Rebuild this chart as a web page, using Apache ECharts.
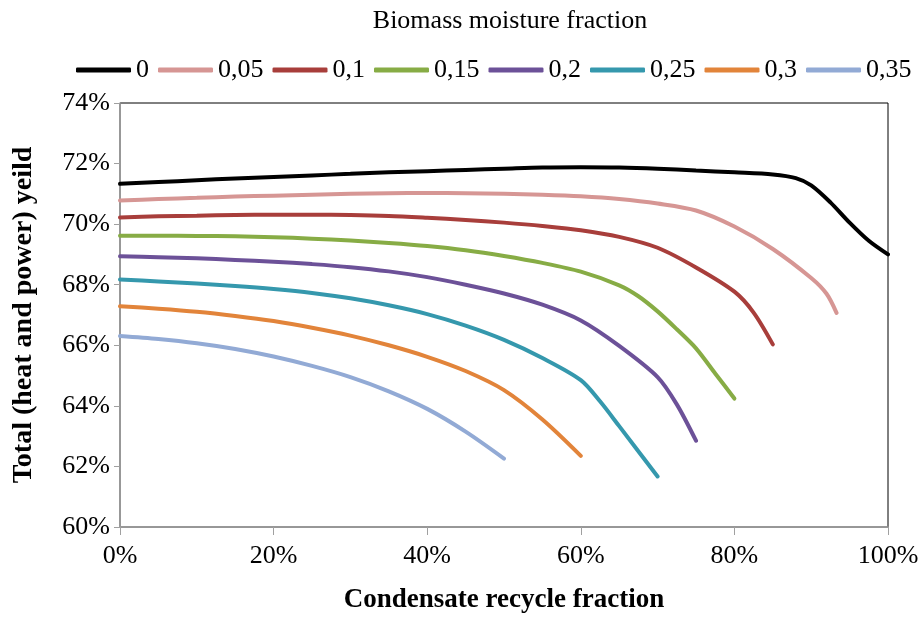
<!DOCTYPE html>
<html>
<head>
<meta charset="utf-8">
<script src="https://cdn.jsdelivr.net/npm/echarts@6/dist/echarts.min.js"></script>
<style>
  html, body { margin: 0; padding: 0; background: #fff; }
  #main { width: 924px; height: 619px; }
</style>
</head>
<body>
<div id="main"></div>
<script>
// moisture fractions (legend labels)
var moistureNames = ['0', '0,05', '0,1', '0,15', '0,2', '0,25', '0,3', '0,35'];
var lineColors = ['#000000', '#d69694', '#a83e3b', '#87ac45', '#6c5198', '#3598ad', '#e2843a', '#92aad5'];

// condensate recycle fraction (%) for each curve
var x0 = [0, 5, 10, 15, 20, 25, 30, 35, 40, 45, 50, 55, 60, 65, 70, 75, 80, 85, 88, 90, 92.5, 95, 97.5, 100];
var x05 = [0, 5, 10, 15, 20, 25, 30, 35, 40, 45, 50, 55, 60, 65, 70, 75, 80, 85, 90, 92, 93.3];
var x10 = [0, 5, 10, 15, 20, 25, 30, 35, 40, 45, 50, 55, 60, 65, 70, 75, 80, 82.5, 85];
var x15 = [0, 5, 10, 15, 20, 25, 30, 35, 40, 45, 50, 55, 60, 65, 67.5, 70, 72.5, 75, 77.5, 80];
var x20 = [0, 5, 10, 15, 20, 25, 30, 35, 40, 45, 50, 55, 60, 65, 70, 72.5, 75];
var x25 = [0, 5, 10, 15, 20, 25, 30, 35, 40, 45, 50, 55, 60, 62.5, 65, 70];
var x30 = [0, 5, 10, 15, 20, 25, 30, 35, 40, 45, 50, 55, 60];
var x35 = [0, 5, 10, 15, 20, 25, 30, 35, 40, 45, 50];

// total (heat and power) yield (%)
var y0 = [71.33, 71.39, 71.45, 71.51, 71.56, 71.61, 71.66, 71.71, 71.75, 71.79, 71.83, 71.87, 71.88, 71.87, 71.83, 71.77, 71.71, 71.64, 71.52, 71.28, 70.72, 70.05, 69.45, 69.0];
var y05 = [70.78, 70.83, 70.87, 70.91, 70.94, 70.97, 71.0, 71.02, 71.03, 71.02, 71.0, 70.97, 70.92, 70.83, 70.68, 70.45, 69.92, 69.18, 68.22, 67.7, 67.07];
var y10 = [70.22, 70.26, 70.28, 70.3, 70.31, 70.31, 70.3, 70.27, 70.21, 70.14, 70.05, 69.94, 69.8, 69.58, 69.22, 68.57, 67.77, 67.08, 66.03];
var y15 = [69.62, 69.62, 69.61, 69.6, 69.57, 69.52, 69.46, 69.38, 69.28, 69.14, 68.95, 68.72, 68.43, 67.98, 67.62, 67.12, 66.53, 65.9, 65.07, 64.24];
var y20 = [68.94, 68.91, 68.87, 68.82, 68.76, 68.68, 68.58, 68.44, 68.25, 68.0, 67.71, 67.34, 66.82, 65.98, 64.95, 64.05, 62.85];
var y25 = [68.17, 68.11, 68.04, 67.96, 67.86, 67.73, 67.55, 67.32, 67.03, 66.65, 66.18, 65.58, 64.85, 64.15, 63.33, 61.67];
var y30 = [67.29, 67.21, 67.11, 66.97, 66.8, 66.58, 66.32, 66.0, 65.62, 65.15, 64.52, 63.55, 62.35];
var y35 = [66.31, 66.21, 66.07, 65.88, 65.63, 65.32, 64.95, 64.48, 63.9, 63.15, 62.26];

var xLists = [x0, x05, x10, x15, x20, x25, x30, x35];
var yLists = [y0, y05, y10, y15, y20, y25, y30, y35];

var chart = echarts.init(document.getElementById('main'), null, { renderer: 'canvas' });

var font = 'Liberation Serif, Times New Roman, serif';

var series = moistureNames.map(function (name, i) {
  return {
    name: name,
    type: 'line',
    smooth: 0.3,
    showSymbol: false,
    symbol: 'none',
    lineStyle: { width: 4, color: lineColors[i], cap: 'round' },
    itemStyle: { color: lineColors[i] },
    data: xLists[i].map(function (x, k) { return [x, yLists[i][k]]; })
  };
});

var option = {
  backgroundColor: '#fff',
  animation: false,
  title: {
    text: 'Biomass moisture fraction',
    left: 505,
    textAlign: 'center',
    top: 3,
    textStyle: { fontFamily: font, fontSize: 26, fontWeight: 'normal', color: '#000' }
  },
  legend: {
    top: 57,
    left: 76,
    padding: 0,
    itemWidth: 55,
    itemHeight: 5,
    itemGap: 9,
    icon: 'roundRect',
    textStyle: { fontFamily: font, fontSize: 26, color: '#000' },
    data: moistureNames
  },
  grid: {
    left: 120, right: 36, top: 103, bottom: 91,
    show: true, borderColor: '#000', borderWidth: 1
  },
  xAxis: {
    type: 'value',
    min: 0, max: 100, interval: 20,
    name: 'Condensate recycle fraction',
    nameLocation: 'middle',
    nameGap: 60,
    nameTextStyle: { fontFamily: font, fontSize: 27, fontWeight: 'bold', color: '#000' },
    axisLine: { show: true, lineStyle: { color: '#a0a0a0', width: 1.5 } },
    axisTick: { show: true, length: 8, lineStyle: { color: '#a0a0a0' } },
    splitLine: { show: false },
    axisLabel: {
      fontFamily: font, fontSize: 26, color: '#000', margin: 16,
      formatter: function (v) { return v + '%'; }
    }
  },
  yAxis: {
    type: 'value',
    min: 60, max: 74, interval: 2,
    name: 'Total (heat and power) yeild',
    nameLocation: 'middle',
    nameGap: 82,
    nameRotate: 90,
    nameTextStyle: { fontFamily: font, fontSize: 28, fontWeight: 'bold', color: '#000' },
    axisLine: { show: true, lineStyle: { color: '#a0a0a0', width: 1.5 } },
    axisTick: { show: true, inside: false, length: 6, lineStyle: { color: '#a0a0a0' } },
    splitLine: { show: false },
    axisLabel: {
      fontFamily: font, fontSize: 26, color: '#000', margin: 10,
      formatter: function (v) { return v + '%'; }
    }
  },
  series: series
};

chart.setOption(option);
</script>
</body>
</html>
